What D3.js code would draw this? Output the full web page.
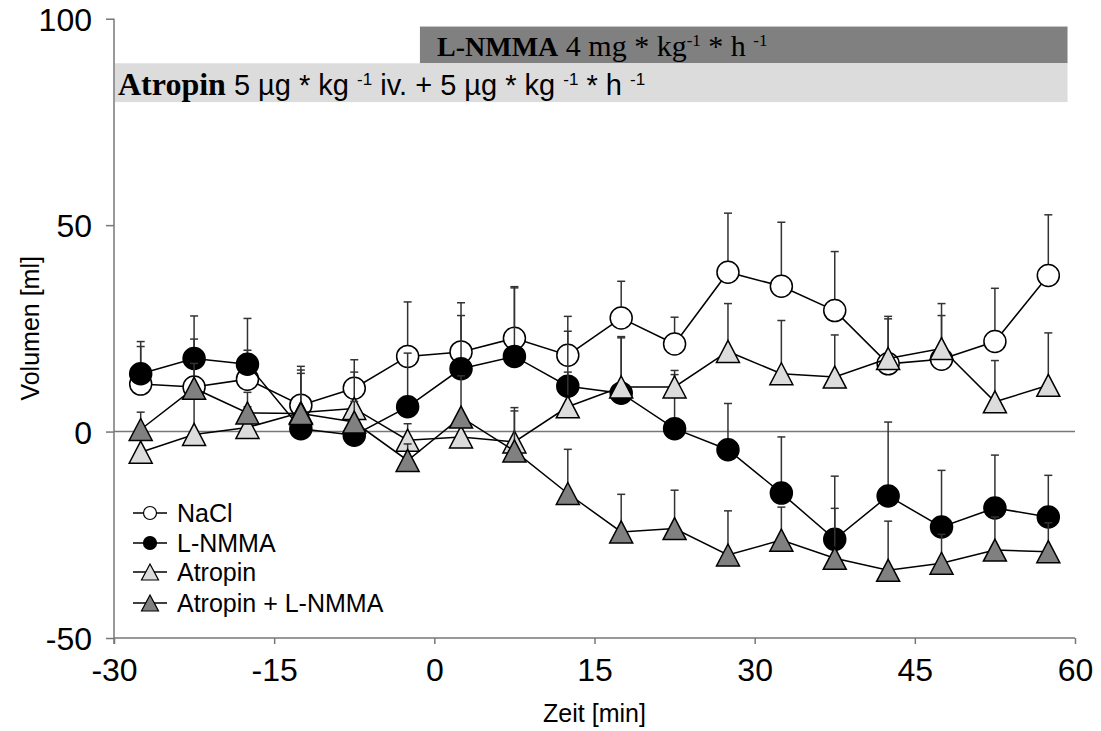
<!DOCTYPE html>
<html><head><meta charset="utf-8">
<script src="https://cdn.jsdelivr.net/npm/d3@7"></script>
<style>body{margin:0;background:#fff}svg{display:block}</style>
</head><body>
<svg id="c" width="1101" height="731"></svg>
<script>
const times = [-27.5,-22.5,-17.5,-12.5,-7.5,-2.5,2.5,7.5,12.5,17.5,22.5,27.5,32.5,37.5,42.5,47.5,52.5,57.5];
const naclMean  = [11.5,10.8,12.7,6.4,10.5,18.2,19.3,22.6,18.5,27.5,21.2,38.6,35.2,29.3,16.4,17.5,21.8,37.8];
const naclErr   = [9.1,17.2,7.0,9.4,6.9,13.2,11.9,12.5,9.4,8.9,6.5,14.3,15.5,14.3,11.5,10.6,12.9,14.7];
const lnmmaMean = [14.0,17.7,16.3,0.7,-0.9,6.0,15.2,18.2,11.0,9.3,0.7,-4.4,-14.9,-26.1,-15.6,-23.1,-18.5,-20.7];
const lnmmaErr  = [7.8,4.7,11.1,3.0,3.0,13.0,12.9,16.6,13.3,13.7,14.1,11.2,13.6,15.3,17.9,13.7,12.8,10.1];
const atrMean   = [-5.0,-0.7,1.0,4.6,5.6,-2.1,-1.3,-2.5,6.0,10.8,10.8,19.4,14.0,13.2,17.7,20.1,7.2,11.2];
const atrErr    = [6.0,12.0,5.0,9.5,8.8,4.0,5.0,7.5,8.4,11.9,3.0,11.6,12.9,10.2,9.6,10.9,10.0,12.7];
const atlMean   = [0.5,10.5,4.5,4.4,2.3,-7.0,3.5,-4.7,-15.0,-24.3,-23.5,-29.9,-26.3,-30.7,-33.6,-31.9,-28.7,-29.1];
const atlErr    = [4.2,6.0,5.0,10.5,5.0,4.0,10.0,10.5,10.7,9.1,9.3,10.7,8.0,12.1,11.9,7.0,8.0,7.0];
const seriesNames = ["NaCl","L-NMMA","Atropin","Atropin + L-NMMA"];
const xTicks = [-30,-15,0,15,30,45,60];
const yTicks = [-50,0,50,100];
// treatment bars: [start, end] in minutes, [low, high] in ml
const lnmmaBar = {x0:-1.35, x1:59.3, y0:89.2, y1:98.1};
const atrBar   = {x0:-30, x1:59.3, y0:79.8, y1:89.2};

const svg = d3.select("#c");
const x = d3.scaleLinear().domain([-30,60]).range([114,1075]);
const y = d3.scaleLinear().domain([-50,100]).range([638,18.7]);
const axisColor = "#777";
const sans = "Liberation Sans, Arial, sans-serif";
const serif = "Liberation Serif, Times New Roman, serif";

// treatment bars
svg.append("rect").attr("x",x(lnmmaBar.x0)).attr("y",y(lnmmaBar.y1))
  .attr("width",x(lnmmaBar.x1)-x(lnmmaBar.x0)).attr("height",y(lnmmaBar.y0)-y(lnmmaBar.y1)).attr("fill","#808080");
svg.append("rect").attr("x",x(atrBar.x0)+1).attr("y",y(atrBar.y1))
  .attr("width",x(atrBar.x1)-x(atrBar.x0)-1).attr("height",y(atrBar.y0)-y(atrBar.y1)).attr("fill","#dcdcdc");

function richText(xp, yp, parts){
  const t = svg.append("text").attr("x",xp).attr("y",yp).attr("fill","#000");
  parts.forEach(p=>{
    const ts = t.append("tspan").text(p.t)
      .attr("font-family", p.f || sans)
      .attr("font-size", p.s || 26)
      .attr("font-weight", p.b ? "bold" : "normal");
    if (p.dy) ts.attr("dy", p.dy);
  });
  return t;
}
richText(437, 56, [
  {t:"L-NMMA", f:serif, s:28, b:true},
  {t:" 4 mg * kg", f:serif, s:30},
  {t:"-1", f:serif, s:17, dy:-10},
  {t:" * h ", f:serif, s:30, dy:10},
  {t:"-1", f:serif, s:17, dy:-10}
]);
richText(118, 95, [
  {t:"Atropin", f:serif, s:32, b:true},
  {t:" 5 µg * kg ", s:29},
  {t:"-1", s:17, dy:-10},
  {t:" iv. + 5 µg * kg ", s:29, dy:10},
  {t:"-1", s:17, dy:-10},
  {t:" * h ", s:29, dy:10},
  {t:"-1", s:17, dy:-10}
]);

// zero line
svg.append("line").attr("x1",x(-30)).attr("x2",x(60)).attr("y1",y(0)).attr("y2",y(0))
  .attr("stroke",axisColor).attr("stroke-width",1.5);

// axes
const fmt = d => String(d);
const yAxis = svg.append("g").attr("transform",`translate(${x(-30)},0)`)
  .call(d3.axisLeft(y).tickValues(yTicks).tickSize(8).tickPadding(14).tickFormat(fmt));
const xAxis = svg.append("g").attr("transform",`translate(0,${y(-50)})`)
  .call(d3.axisBottom(x).tickValues(xTicks).tickSize(6).tickPadding(13).tickFormat(fmt));
[yAxis,xAxis].forEach(g=>{
  g.select(".domain").attr("stroke",axisColor).attr("stroke-width",1.5);
  g.selectAll(".tick line").attr("stroke",axisColor).attr("stroke-width",1.5);
  g.selectAll("text").attr("font-family",sans).attr("font-size",32).attr("fill","#000");
});
yAxis.select(".domain").attr("d",`M0,${y(100)}V${y(-50)+6}`);
xAxis.select(".domain").attr("d",`M${x(-30)},0H${x(60)}`);
yAxis.selectAll(".tick text").attr("dy","0.36em");
xAxis.selectAll(".tick text").attr("dy","0.74em");

svg.append("text").attr("transform",`translate(39,${(y(100)+y(-50))/2}) rotate(-90)`)
  .attr("text-anchor","middle").attr("font-family",sans).attr("font-size",25).text("Volumen [ml]");
svg.append("text").attr("x",(x(-30)+x(60))/2).attr("y",722)
  .attr("text-anchor","middle").attr("font-family",sans).attr("font-size",25).text("Zeit [min]");

function triPath(w,h){ return `M0,${-h/2}L${w/2},${h/2}L${-w/2},${h/2}Z`; }

const series = [
  {name:seriesNames[0], mean:naclMean, err:naclErr, shape:"circle", fill:"#fff"},
  {name:seriesNames[1], mean:lnmmaMean, err:lnmmaErr, shape:"circle", fill:"#000"},
  {name:seriesNames[2], mean:atrMean, err:atrErr, shape:"tri", fill:"#dcdcdc"},
  {name:seriesNames[3], mean:atlMean, err:atlErr, shape:"tri", fill:"#808080"}
];
const line = d3.line().x(d=>x(d.t)).y(d=>y(d.v));
series.forEach(s=>{
  const pts = times.map((t,i)=>({t, v:s.mean[i], e:s.err[i]}));
  const g = svg.append("g");
  g.selectAll("line.eb").data(pts).enter().append("line")
    .attr("x1",d=>x(d.t)).attr("x2",d=>x(d.t)).attr("y1",d=>y(d.v)).attr("y2",d=>y(d.v+d.e))
    .attr("stroke","#333").attr("stroke-width",1.5);
  g.selectAll("line.cap").data(pts).enter().append("line")
    .attr("x1",d=>x(d.t)-4).attr("x2",d=>x(d.t)+4).attr("y1",d=>y(d.v+d.e)).attr("y2",d=>y(d.v+d.e))
    .attr("stroke","#333").attr("stroke-width",1.5);
  g.append("path").attr("d",line(pts)).attr("fill","none").attr("stroke","#000").attr("stroke-width",1.5);
  if (s.shape==="circle"){
    g.selectAll("circle").data(pts).enter().append("circle")
      .attr("cx",d=>x(d.t)).attr("cy",d=>y(d.v)).attr("r",11)
      .attr("fill",s.fill).attr("stroke","#000").attr("stroke-width",1.5);
  } else {
    g.selectAll("path.m").data(pts).enter().append("path")
      .attr("d",triPath(23,22)).attr("transform",d=>`translate(${x(d.t)},${y(d.v)})`)
      .attr("fill",s.fill).attr("stroke","#000").attr("stroke-width",1.5);
  }
});

// legend
const legY = [513,543,572,603];
series.forEach((s,i)=>{
  const g = svg.append("g").attr("transform",`translate(0,${legY[i]})`);
  g.append("line").attr("x1",133).attr("x2",167).attr("stroke","#000").attr("stroke-width",1.5);
  if (s.shape==="circle") g.append("circle").attr("cx",150).attr("r",6.5).attr("fill",s.fill).attr("stroke","#000").attr("stroke-width",1.2);
  else g.append("path").attr("d",triPath(17,16)).attr("transform","translate(150,0)").attr("fill",s.fill).attr("stroke","#000").attr("stroke-width",1.2);
  g.append("text").attr("x",177).attr("y",9).attr("font-family",sans).attr("font-size",25).text(s.name);
});
</script>
</body></html>
